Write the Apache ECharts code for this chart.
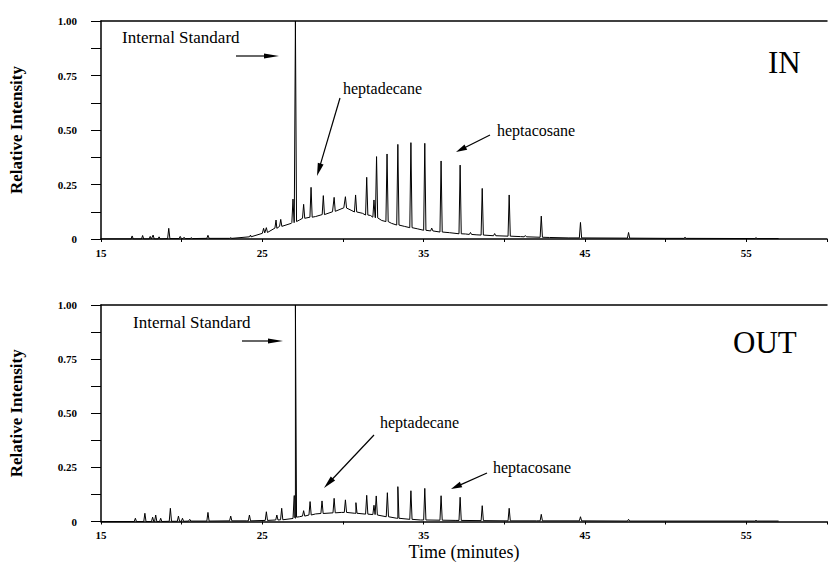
<!DOCTYPE html>
<html>
<head>
<meta charset="utf-8">
<script src="https://cdn.jsdelivr.net/npm/echarts@6/dist/echarts.min.js"></script>
<style>html,body{margin:0;padding:0;background:#fff;}#c{width:830px;height:566px;}</style>
</head>
<body>
<div id="c"></div>
<script>
// ---- Data ----
// x tick labels (minutes) and y tick labels
const xTickLabels = [15, 25, 35, 45, 55];
const yTickValues = [0, 0.25, 0.5, 0.75, 1.0];
const yTickLabels = ['0', '0.25', '0.50', '0.75', '1.00'];

// Panel "IN": baseline hump [time, intensity]
const baselineIN = [
  [15.0, 0.0], [20.0, 0.002], [23.0, 0.003], [24.3, 0.01], [25.0, 0.026], [25.9, 0.049],
  [26.8, 0.072], [27.3, 0.087], [28.3, 0.103], [29.35, 0.125], [30.05, 0.143], [30.5, 0.132],
  [31.2, 0.118], [31.7, 0.108], [32.4, 0.085], [33.0, 0.072], [33.8, 0.058], [34.6, 0.047],
  [35.6, 0.037], [36.6, 0.029], [37.6, 0.023], [38.3, 0.019], [39.5, 0.015], [41.0, 0.011],
  [42.8, 0.007], [44.0, 0.005], [50.0, 0.003], [57.0, 0.002]
];
// Panel "IN": peaks [time, base, top]
const peaksIN = [
  [16.93, 0.0, 0.014], [17.58, 0.0, 0.016], [18.05, 0.0, 0.012], [18.23, 0.0, 0.018],
  [18.6, 0.0, 0.010], [19.2, 0.002, 0.049], [19.91, 0.002, 0.012], [20.15, 0.002, 0.008],
  [20.6, 0.002, 0.006], [21.63, 0.003, 0.017], [23.04, 0.003, 0.006], [24.27, 0.01, 0.018],
  [25.08, 0.028, 0.049], [25.25, 0.03, 0.052], [25.85, 0.05, 0.087], [26.14, 0.058, 0.09],
  [26.9, 0.075, 0.183], [27.05, 0.08, 1.0], [27.56, 0.095, 0.159], [28.02, 0.1, 0.237],
  [28.78, 0.112, 0.199], [29.45, 0.127, 0.191], [30.15, 0.142, 0.194], [30.78, 0.124, 0.202],
  [31.47, 0.11, 0.283], [31.92, 0.1, 0.179], [32.08, 0.097, 0.378], [32.73, 0.08, 0.39],
  [33.4, 0.064, 0.434], [34.21, 0.052, 0.442], [35.07, 0.04, 0.439], [35.5, 0.037, 0.05],
  [36.08, 0.032, 0.358], [37.26, 0.024, 0.339], [37.9, 0.021, 0.03], [38.63, 0.018, 0.232],
  [39.4, 0.015, 0.025], [40.3, 0.013, 0.202], [41.3, 0.01, 0.016], [42.29, 0.008, 0.105],
  [44.72, 0.005, 0.076], [47.7, 0.004, 0.03], [51.2, 0.003, 0.008], [55.6, 0.002, 0.006]
];

// Panel "OUT": baseline hump [time, intensity]
const baselineOUT = [
  [15.0, 0.0], [20.0, 0.002], [24.0, 0.003], [26.3, 0.008], [26.9, 0.014], [27.3, 0.022],
  [28.3, 0.035], [29.9, 0.042], [30.8, 0.038], [32.0, 0.03], [33.4, 0.015], [34.8, 0.007],
  [37.0, 0.005], [42.0, 0.003], [57.0, 0.002]
];
// Panel "OUT": peaks [time, base, top]
const peaksOUT = [
  [17.13, 0.0, 0.015], [17.72, 0.0, 0.038], [18.2, 0.0, 0.02], [18.39, 0.0, 0.03],
  [18.7, 0.0, 0.015], [19.3, 0.001, 0.061], [19.8, 0.001, 0.025], [20.05, 0.001, 0.015],
  [20.5, 0.002, 0.01], [21.63, 0.002, 0.042], [23.04, 0.003, 0.025], [24.2, 0.003, 0.03],
  [25.25, 0.005, 0.045], [25.9, 0.007, 0.03], [26.2, 0.008, 0.061], [26.98, 0.015, 0.12],
  [27.05, 0.02, 1.0], [27.56, 0.025, 0.05], [27.96, 0.03, 0.092], [28.7, 0.037, 0.095],
  [29.45, 0.04, 0.107], [30.15, 0.042, 0.10], [30.8, 0.038, 0.087], [31.47, 0.034, 0.121],
  [31.92, 0.032, 0.075], [32.06, 0.03, 0.118], [32.75, 0.022, 0.133], [33.4, 0.015, 0.161],
  [34.21, 0.01, 0.142], [35.07, 0.007, 0.153], [36.08, 0.006, 0.119], [37.26, 0.005, 0.112],
  [38.63, 0.004, 0.073], [40.3, 0.003, 0.061], [42.29, 0.003, 0.033], [44.72, 0.003, 0.022],
  [47.7, 0.002, 0.01], [55.6, 0.002, 0.005]
];

// ---- Build traces ----
function buildTrace(baseline, peaks, w) {
  const pts = baseline.map(p => [p[0], p[1]]);
  peaks.forEach(p => {
    pts.push([p[0] - w, p[1]]);
    pts.push([p[0], p[2]]);
    pts.push([p[0] + w, p[1]]);
  });
  pts.sort((a, b) => a[0] - b[0]);
  return pts;
}
const traceIN = buildTrace(baselineIN, peaksIN, 0.07);
const traceOUT = buildTrace(baselineOUT, peaksOUT, 0.07);

const FONT = '"Liberation Serif", "DejaVu Serif", serif';
const chart = echarts.init(document.getElementById('c'), null, {renderer: 'svg'});

function xAxes(gi, withName) {
  return [{
    type: 'value', gridIndex: gi, position: 'bottom', min: 15, max: 60, interval: 5,
    axisLine: {show: true, onZero: false, lineStyle: {color: '#000', width: 1.5}},
    axisTick: {show: true, length: 3, lineStyle: {color: '#000', width: 1}},
    splitLine: {show: false},
    axisLabel: {
      margin: 8, color: '#000', fontFamily: FONT, fontSize: 11, fontWeight: 'bold',
      formatter: v => (xTickLabels.indexOf(Math.round(v * 1000) / 1000) >= 0 ? String(v) : '')
    },
    name: withName ? 'Time (minutes)' : '',
    nameLocation: 'middle', nameGap: 21,
    nameTextStyle: {color: '#000', fontFamily: FONT, fontSize: 18}
  }, {
    type: 'value', gridIndex: gi, position: 'top', min: 15, max: 60,
    axisLine: {show: true, onZero: false, lineStyle: {color: '#000', width: 1.5}},
    axisTick: {show: false}, axisLabel: {show: false}, splitLine: {show: false}
  }];
}
function yAxis(gi) {
  return {
    type: 'value', gridIndex: gi, min: 0, max: 1, interval: 0.125,
    axisLine: {show: true, lineStyle: {color: '#000', width: 1.5}},
    axisTick: {show: true, length: 10, lineStyle: {color: '#000', width: 1}},
    splitLine: {show: false},
    axisLabel: {
      margin: 24, color: '#000', fontFamily: FONT, fontSize: 11, fontWeight: 'bold',
      formatter: v => {
        for (let i = 0; i < yTickValues.length; i++) {
          if (Math.abs(v - yTickValues[i]) < 1e-6) return yTickLabels[i];
        }
        return '';
      }
    },
    name: 'Relative Intensity', nameLocation: 'middle', nameGap: 76, nameRotate: 90,
    nameTextStyle: {color: '#000', fontFamily: FONT, fontSize: 17, fontWeight: 'bold'}
  };
}

function arrow(x1, y1, x2, y2, hl, hw) {
  const dx = x2 - x1, dy = y2 - y1, L = Math.sqrt(dx * dx + dy * dy);
  const ux = dx / L, uy = dy / L, px = -uy, py = ux;
  const bx = x2 - ux * hl, by = y2 - uy * hl;
  return [
    {type: 'line', shape: {x1: x1, y1: y1, x2: bx + ux * 2, y2: by + uy * 2},
     style: {stroke: '#000', lineWidth: 1.2}, silent: true},
    {type: 'polygon', shape: {points: [[x2, y2], [bx + px * hw, by + py * hw], [bx - px * hw, by - py * hw]]},
     style: {fill: '#000'}, silent: true}
  ];
}
function txt(s, x, y, size) {
  return {type: 'text', x: x, y: y, silent: true,
    style: {text: s, fill: '#000', fontFamily: FONT, fontSize: size, verticalAlign: 'middle', align: 'left'}};
}

const graphics = [].concat(
  txt('Internal Standard', 122, 37, 17),
  arrow(236, 56, 279, 56, 15, 2.5),
  txt('heptadecane', 343, 88, 16),
  arrow(340, 98, 317, 176, 13, 3),
  txt('heptacosane', 497, 130, 16),
  arrow(490, 135, 456, 152, 11, 3),
  txt('IN', 768, 62, 31),
  txt('Internal Standard', 133, 322, 17),
  arrow(242, 341, 283, 341, 15, 2.5),
  txt('heptadecane', 380, 422, 16),
  arrow(374, 435, 324, 488, 13, 3),
  txt('heptacosane', 493, 467, 16),
  arrow(487, 473, 451, 489, 11, 3),
  txt('OUT', 733, 342, 31)
);

chart.setOption({
  backgroundColor: '#fff',
  animation: false,
  grid: [
    {left: 101, top: 21, width: 739, height: 218},
    {left: 101, top: 305, width: 739, height: 216.5}
  ],
  xAxis: [].concat(xAxes(0, false), xAxes(1, true)),
  yAxis: [yAxis(0), yAxis(1)],
  series: [
    {type: 'line', xAxisIndex: 0, yAxisIndex: 0, data: traceIN, showSymbol: false, symbol: 'none',
     lineStyle: {color: '#000', width: 1}, clip: true},
    {type: 'line', xAxisIndex: 2, yAxisIndex: 1, data: traceOUT, showSymbol: false, symbol: 'none',
     lineStyle: {color: '#000', width: 1}, clip: true}
  ],
  graphic: graphics
});
</script>
</body>
</html>
